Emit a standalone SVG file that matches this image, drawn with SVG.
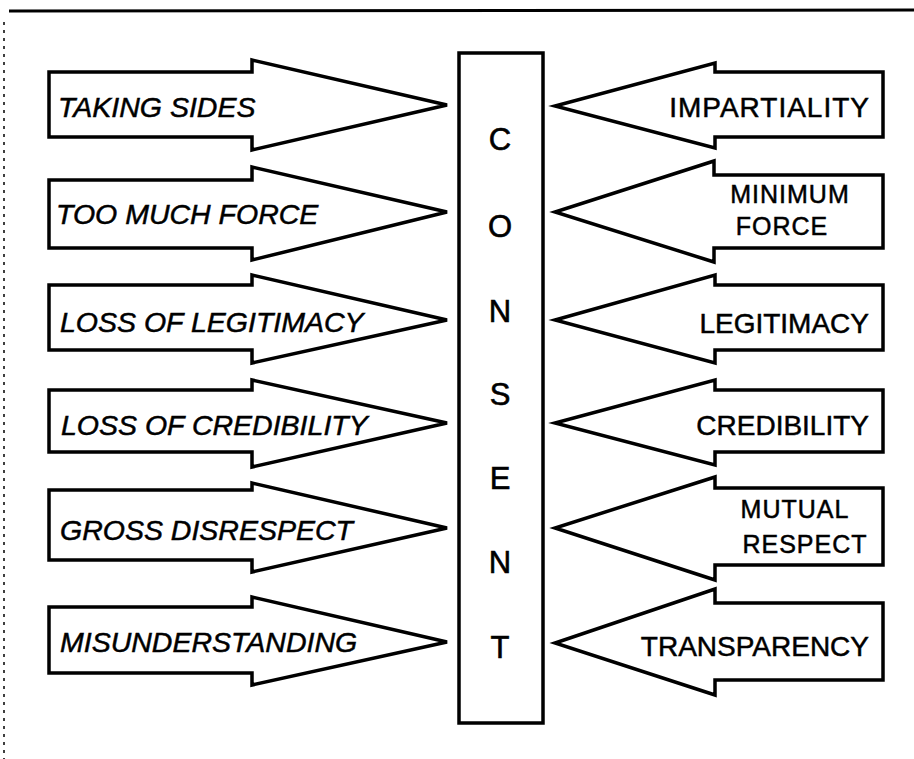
<svg xmlns="http://www.w3.org/2000/svg" width="914" height="759" viewBox="0 0 914 759">
<style>
.arrow{fill:#fff;stroke:#000;stroke-width:3.5;stroke-linejoin:miter}
.box{fill:#fff;stroke:#000;stroke-width:3.5}
.lt{font-family:"Liberation Sans",Arial,sans-serif;font-style:italic;font-size:28.5px;fill:#000;stroke:#000;stroke-width:0.5}
.rt{font-family:"Liberation Sans",Arial,sans-serif;font-size:28px;fill:#000;text-anchor:end;stroke:#000;stroke-width:0.5}
.rt2{font-family:"Liberation Sans",Arial,sans-serif;font-size:25px;fill:#000;text-anchor:middle;stroke:#000;stroke-width:0.5;letter-spacing:1px}
.ct{font-family:"Liberation Sans",Arial,sans-serif;font-size:31px;fill:#000;text-anchor:middle;stroke:#000;stroke-width:0.6}
</style>
<rect width="914" height="759" fill="#fff"/>
<g id="frame">
<line x1="9" y1="11" x2="914" y2="10" stroke="#000" stroke-width="3"/>
<line x1="4" y1="22" x2="4" y2="759" stroke="#000" stroke-width="1.5" stroke-dasharray="3,5"/>
</g>
<g id="consent">
<rect class="box" x="459" y="53" width="84" height="670"/>
<text class="ct" x="500" y="150">C</text>
<text class="ct" x="500" y="237">O</text>
<text class="ct" x="500" y="322">N</text>
<text class="ct" x="500" y="405">S</text>
<text class="ct" x="500" y="489">E</text>
<text class="ct" x="500" y="573">N</text>
<text class="ct" x="500" y="658">T</text>
</g>
<g id="connectors">
<g id="taking-sides">
<polygon class="arrow" points="49,72 252,72 252,60 447,105 252,150 252,137 49,137"/>
<text class="lt" x="58" y="117">TAKING SIDES</text>
</g>
<g id="too-much-force">
<polygon class="arrow" points="49,180 252,180 252,167 447,212 252,260 252,248 49,248"/>
<text class="lt" x="56" y="224">TOO MUCH FORCE</text>
</g>
<g id="loss-of-legitimacy">
<polygon class="arrow" points="49,285 252,285 252,275 447,320 252,363 252,350 49,350"/>
<text class="lt" x="60" y="332">LOSS OF LEGITIMACY</text>
</g>
<g id="loss-of-credibility">
<polygon class="arrow" points="49,390 252,390 252,380 447,423 252,467 252,452 49,452"/>
<text class="lt" x="61" y="435">LOSS OF CREDIBILITY</text>
</g>
<g id="gross-disrespect">
<polygon class="arrow" points="49,490 252,490 252,483 447,528 252,572 252,560 49,560"/>
<text class="lt" x="60" y="540">GROSS DISRESPECT</text>
</g>
<g id="misunderstanding">
<polygon class="arrow" points="49,607 252,607 252,597 447,642 252,685 252,673 49,673"/>
<text class="lt" x="60" y="652">MISUNDERSTANDING</text>
</g>
<g id="impartiality">
<polygon class="arrow" points="883,72 715,72 715,63 555,106 715,148 715,137 883,137"/>
<text class="rt" x="870" y="117" letter-spacing="1">IMPARTIALITY</text>
</g>
<g id="minimum-force">
<polygon class="arrow" points="883,175 714,175 714,161 555,212 714,262 714,248 883,248"/>
<text class="rt2" x="790" y="203">MINIMUM</text>
<text class="rt2" x="782" y="235">FORCE</text>
</g>
<g id="legitimacy">
<polygon class="arrow" points="883,285 715,285 715,275 555,320 715,363 715,350 883,350"/>
<text class="rt" x="869" y="333">LEGITIMACY</text>
</g>
<g id="credibility">
<polygon class="arrow" points="883,390 715,390 715,380 555,423 715,465 715,452 883,452"/>
<text class="rt" x="869" y="435">CREDIBILITY</text>
</g>
<g id="mutual-respect">
<polygon class="arrow" points="883,488 715,488 715,477 555,528 715,580 715,565 883,565"/>
<text class="rt2" x="795" y="518">MUTUAL</text>
<text class="rt2" x="805" y="553">RESPECT</text>
</g>
<g id="transparency">
<polygon class="arrow" points="883,603 715,603 715,589 555,643 715,695 715,680 883,680"/>
<text class="rt" x="869" y="656">TRANSPARENCY</text>
</g>
</g>
</svg>
